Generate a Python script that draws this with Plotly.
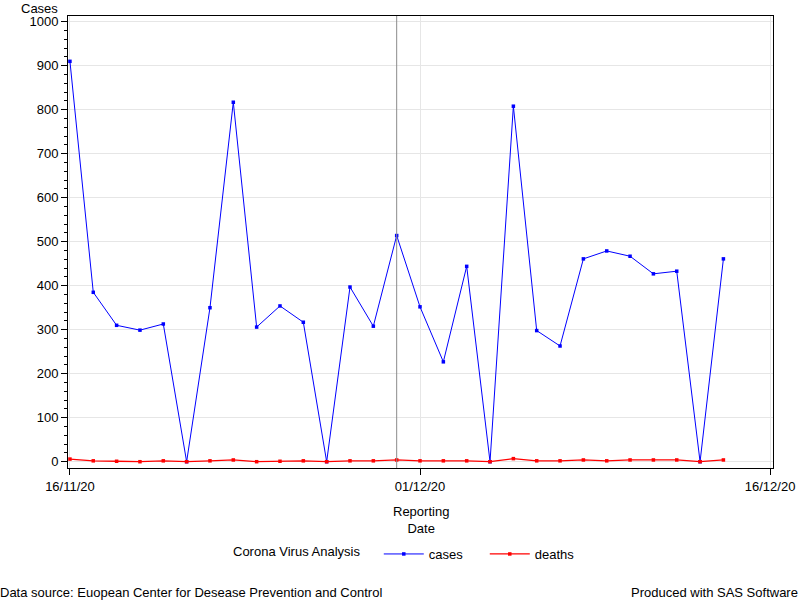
import plotly.graph_objects as go

dates = ["2020-11-16", "2020-11-17", "2020-11-18", "2020-11-19", "2020-11-20", "2020-11-21",
         "2020-11-22", "2020-11-23", "2020-11-24", "2020-11-25", "2020-11-26", "2020-11-27",
         "2020-11-28", "2020-11-29", "2020-11-30", "2020-12-01", "2020-12-02", "2020-12-03",
         "2020-12-04", "2020-12-05", "2020-12-06", "2020-12-07", "2020-12-08", "2020-12-09",
         "2020-12-10", "2020-12-11", "2020-12-12", "2020-12-13", "2020-12-14"]
cases = [910, 385, 310, 299, 313, 0, 350, 817, 306, 354, 317, 0, 397, 308, 514,
         352, 227, 444, 0, 808, 298, 263, 461, 479, 467, 427, 433, 0, 461]
deaths = [6, 2, 1, 0, 2, 0, 2, 4, 0, 1, 2, 0, 2, 2, 4,
          2, 2, 2, 0, 7, 2, 2, 4, 2, 4, 4, 4, 0, 4]
xtick_vals = ["2020-11-16", "2020-12-01", "2020-12-16"]
xtick_text = ["16/11/20", "01/12/20", "16/12/20"]
ref_date = "2020-11-30"

L, R, T, B = 68, 27, 16, 132
W, H = 800, 600
pw, ph = W - L - R, H - T - B
FONT = "Liberation Sans, Arial, sans-serif"
FS = 13

fig = go.Figure()
fig.add_trace(go.Scatter(x=dates, y=cases, mode="lines+markers", name="cases",
                         line=dict(color="#0000FF", width=1),
                         marker=dict(color="#0000FF", size=3.5, symbol="square")))
fig.add_trace(go.Scatter(x=dates, y=deaths, mode="lines+markers", name="deaths",
                         line=dict(color="#FF0000", width=1.3),
                         marker=dict(color="#FF0000", size=3.5, symbol="square")))

fig.add_shape(type="line", xref="x", yref="paper", x0=ref_date, x1=ref_date, y0=0, y1=1,
              line=dict(color="#8c8c8c", width=1), layer="above")

fig.update_layout(
    width=W, height=H,
    margin=dict(l=L, r=R, t=T, b=B, autoexpand=False),
    paper_bgcolor="white", plot_bgcolor="white",
    font=dict(family=FONT, size=FS, color="#000000"),
    showlegend=True,
    legend=dict(orientation="h", x=(233 - 2 - L) / pw, xanchor="left", y=-86 / ph,
                yanchor="middle",
                title=dict(text="Corona Virus Analysis   ", side="left", font=dict(size=FS)),
                font=dict(size=FS), itemwidth=40, entrywidth=51, entrywidthmode="pixels",
                bgcolor="rgba(0,0,0,0)"),
    xaxis=dict(type="date", range=["2020-11-15 22:00", "2020-12-16 03:00"],
               tickvals=xtick_vals, ticktext=xtick_text,
               ticks="outside", ticklen=6, tickcolor="black", tickwidth=1,
               showline=True, linecolor="black", linewidth=1, mirror=True,
               showgrid=True, gridcolor="#e6e6e6", gridwidth=1, zeroline=False,
               tickfont=dict(size=FS)),
    yaxis=dict(range=[-14.3, 1013], tickvals=list(range(0, 1001, 100)),
               ticks="outside", ticklen=6, tickcolor="black", tickwidth=1,
               minor=dict(dtick=20, ticks="outside", ticklen=3, tickcolor="black", showgrid=False),
               showline=True, linecolor="black", linewidth=1, mirror=True,
               showgrid=True, gridcolor="#e6e6e6", gridwidth=1, zeroline=False,
               tickfont=dict(size=FS)),
)

fig.add_annotation(text="Cases", xref="paper", yref="paper", x=0, y=1, xanchor="right",
                   yanchor="bottom", xshift=-9, yshift=-1, borderpad=0, showarrow=False,
                   font=dict(size=FS))
fig.add_annotation(text="Reporting<br>Date", xref="paper", yref="paper", x=0.5, y=0,
                   xanchor="center", yanchor="top", yshift=-34, showarrow=False,
                   font=dict(size=FS))
fig.add_annotation(text="Data source: Euopean Center for Desease Prevention and Control",
                   xref="paper", yref="paper", x=-L / pw, y=-(592 - (H - B)) / ph,
                   xanchor="left", yanchor="middle", showarrow=False, xshift=-2,
                   font=dict(size=FS))
fig.add_annotation(text="Produced with SAS Software",
                   xref="paper", yref="paper", x=(pw + R) / pw, y=-(592 - (H - B)) / ph,
                   xanchor="right", yanchor="middle", showarrow=False, xshift=0,
                   font=dict(size=FS))

fig.write_html("out.html", config={"displayModeBar": False},
               post_script="document.body.style.margin='0';document.body.style.overflow='hidden';")
